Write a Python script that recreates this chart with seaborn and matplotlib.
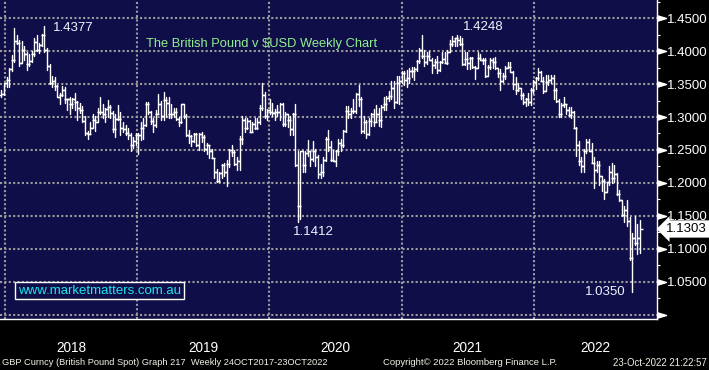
import numpy as np
import pandas as pd
import matplotlib
matplotlib.use('Agg')
import matplotlib.pyplot as plt
import matplotlib.dates as mdates
import matplotlib.ticker as mticker
import matplotlib.transforms as mtransforms
import seaborn as sns

# GBP/USD weekly bars, week ending Friday, 22 Dec 2017 -> 21 Oct 2022
first_open = 1.3340

close_2017 = [1.3350, 1.3510]
high_2017 = [1.3410, 1.3520]
low_2017 = [1.3300, 1.3340]

close_2018 = [1.3568, 1.3720, 1.3860, 1.4150, 1.4120, 1.3820, 1.4020, 1.3960, 1.3810, 1.3850,
              1.3950, 1.4140, 1.4020, 1.4090, 1.4240, 1.4010, 1.3780, 1.3520, 1.3540, 1.3470,
              1.3310, 1.3340, 1.3410, 1.3270, 1.3270, 1.3200, 1.3280, 1.3230, 1.3140, 1.3110,
              1.2940, 1.2760, 1.2740, 1.2840, 1.2960, 1.2930, 1.3070, 1.3080, 1.3040, 1.3120,
              1.3150, 1.3060, 1.2820, 1.2970, 1.2970, 1.2830, 1.2820, 1.2760, 1.2730, 1.2570,
              1.2640, 1.2730]
high_2018 = [1.3613, 1.3745, 1.3943, 1.4345, 1.4240, 1.4160, 1.4145, 1.4070, 1.3990, 1.3950,
             1.4000, 1.4200, 1.4240, 1.4120, 1.4260, 1.4377, 1.4040, 1.3800, 1.3620, 1.3610,
             1.3480, 1.3360, 1.3470, 1.3450, 1.3280, 1.3300, 1.3290, 1.3360, 1.3250, 1.3210,
             1.3170, 1.3020, 1.2790, 1.2930, 1.3050, 1.3020, 1.3140, 1.3300, 1.3190, 1.3130,
             1.3260, 1.3180, 1.3090, 1.3040, 1.3180, 1.3080, 1.2930, 1.2880, 1.2840, 1.2760,
             1.2700, 1.2750]
low_2018 = [1.3460, 1.3460, 1.3690, 1.3840, 1.4100, 1.3770, 1.3820, 1.3870, 1.3710, 1.3780,
            1.3840, 1.3930, 1.4000, 1.3970, 1.4080, 1.3980, 1.3710, 1.3500, 1.3450, 1.3410,
            1.3300, 1.3200, 1.3320, 1.3210, 1.3100, 1.3050, 1.3130, 1.3100, 1.2960, 1.3060,
            1.2920, 1.2730, 1.2662, 1.2740, 1.2830, 1.2790, 1.2920, 1.3040, 1.2990, 1.2920,
            1.3000, 1.2990, 1.2780, 1.2700, 1.2950, 1.2720, 1.2770, 1.2720, 1.2660, 1.2480,
            1.2530, 1.2580]

close_2019 = [1.2730, 1.2840, 1.2880, 1.3190, 1.3080, 1.2940, 1.2880, 1.3050, 1.3190, 1.3010,
              1.3260, 1.3210, 1.3040, 1.3040, 1.3080, 1.2970, 1.2920, 1.3190, 1.3010, 1.2720,
              1.2710, 1.2630, 1.2740, 1.2580, 1.2740, 1.2690, 1.2520, 1.2570, 1.2480, 1.2380,
              1.2160, 1.2030, 1.2150, 1.2280, 1.2160, 1.2290, 1.2500, 1.2470, 1.2290, 1.2330,
              1.2670, 1.2960, 1.2830, 1.2940, 1.2780, 1.2900, 1.2830, 1.2930, 1.3140, 1.3330,
              1.3010, 1.3100]
high_2019 = [1.2750, 1.2930, 1.2990, 1.3220, 1.3220, 1.3090, 1.2990, 1.3110, 1.3350, 1.3240,
             1.3380, 1.3310, 1.3300, 1.3200, 1.3130, 1.3130, 1.3000, 1.3200, 1.3180, 1.3040,
             1.2810, 1.2720, 1.2760, 1.2760, 1.2760, 1.2780, 1.2720, 1.2600, 1.2560, 1.2520,
             1.2380, 1.2210, 1.2170, 1.2290, 1.2310, 1.2350, 1.2510, 1.2580, 1.2500, 1.2390,
             1.2710, 1.3010, 1.2990, 1.2980, 1.2950, 1.2930, 1.2980, 1.2980, 1.3180, 1.3515,
             1.3380, 1.3120]
low_2019 = [1.2440, 1.2650, 1.2670, 1.2860, 1.3040, 1.2890, 1.2770, 1.2850, 1.3050, 1.2960,
            1.2960, 1.3000, 1.2980, 1.2980, 1.3000, 1.2960, 1.2870, 1.2910, 1.2980, 1.2710,
            1.2600, 1.2560, 1.2620, 1.2560, 1.2500, 1.2620, 1.2480, 1.2440, 1.2380, 1.2380,
            1.2080, 1.2010, 1.2015, 1.2080, 1.2100, 1.1958, 1.2240, 1.2410, 1.2280, 1.2200,
            1.2200, 1.2590, 1.2770, 1.2820, 1.2770, 1.2770, 1.2820, 1.2820, 1.2900, 1.3100,
            1.2990, 1.2960]

close_2020 = [1.3080, 1.3060, 1.3070, 1.3080, 1.3200, 1.2890, 1.3040, 1.2960, 1.2820, 1.3040,
              1.2280, 1.1650, 1.2480, 1.2270, 1.2450, 1.2490, 1.2370, 1.2490, 1.2400, 1.2130,
              1.2170, 1.2350, 1.2670, 1.2550, 1.2350, 1.2340, 1.2480, 1.2610, 1.2570, 1.2790,
              1.3090, 1.3050, 1.3090, 1.3090, 1.3350, 1.3280, 1.2790, 1.2920, 1.2740, 1.2940,
              1.3050, 1.2920, 1.3040, 1.2950, 1.3150, 1.3190, 1.3290, 1.3320, 1.3440, 1.3230,
              1.3510, 1.3550]
high_2020 = [1.3280, 1.3210, 1.3120, 1.3180, 1.3210, 1.3210, 1.3070, 1.3050, 1.3020, 1.3060,
             1.3200, 1.2480, 1.2490, 1.2490, 1.2490, 1.2650, 1.2480, 1.2640, 1.2510, 1.2420,
             1.2290, 1.2390, 1.2690, 1.2810, 1.2640, 1.2500, 1.2500, 1.2670, 1.2670, 1.2800,
             1.3170, 1.3170, 1.3140, 1.3270, 1.3360, 1.3480, 1.3300, 1.3010, 1.2950, 1.2980,
             1.3060, 1.3120, 1.3180, 1.3140, 1.3180, 1.3310, 1.3320, 1.3400, 1.3540, 1.3540,
             1.3620, 1.3620]
low_2020 = [1.3040, 1.3010, 1.2960, 1.3020, 1.2960, 1.2870, 1.2870, 1.2850, 1.2730, 1.2730,
            1.2260, 1.1412, 1.1450, 1.2160, 1.2170, 1.2410, 1.2250, 1.2330, 1.2260, 1.2080,
            1.2080, 1.2110, 1.2330, 1.2480, 1.2340, 1.2330, 1.2250, 1.2430, 1.2480, 1.2540,
            1.2770, 1.2980, 1.2990, 1.3060, 1.3060, 1.3170, 1.2760, 1.2760, 1.2680, 1.2720,
            1.2860, 1.2860, 1.2920, 1.2860, 1.2850, 1.3110, 1.3110, 1.3240, 1.3280, 1.3140,
            1.3210, 1.3190]

close_2021 = [1.3670, 1.3560, 1.3590, 1.3690, 1.3700, 1.3730, 1.3850, 1.4010, 1.3930, 1.3830,
              1.3930, 1.3870, 1.3790, 1.3830, 1.3710, 1.3840, 1.3880, 1.3820, 1.3990, 1.4100,
              1.4150, 1.4190, 1.4160, 1.4110, 1.3800, 1.3880, 1.3820, 1.3890, 1.3760, 1.3740,
              1.3900, 1.3870, 1.3860, 1.3620, 1.3760, 1.3870, 1.3840, 1.3740, 1.3670, 1.3540,
              1.3620, 1.3750, 1.3760, 1.3680, 1.3500, 1.3410, 1.3440, 1.3330, 1.3230, 1.3270,
              1.3230, 1.3410, 1.3530]
high_2021 = [1.3700, 1.3700, 1.3710, 1.3750, 1.3760, 1.3760, 1.3870, 1.4050, 1.4240, 1.4010,
             1.3990, 1.4000, 1.3900, 1.3880, 1.3920, 1.3850, 1.3980, 1.3980, 1.4010, 1.4170,
             1.4230, 1.4200, 1.4248, 1.4220, 1.4200, 1.3980, 1.3980, 1.3910, 1.3910, 1.3780,
             1.3980, 1.3960, 1.3900, 1.3890, 1.3790, 1.3890, 1.3890, 1.3910, 1.3750, 1.3720,
             1.3670, 1.3770, 1.3830, 1.3840, 1.3700, 1.3610, 1.3510, 1.3440, 1.3370, 1.3290,
             1.3370, 1.3440, 1.3560]
low_2021 = [1.3520, 1.3480, 1.3450, 1.3520, 1.3610, 1.3560, 1.3700, 1.3820, 1.3890, 1.3780,
            1.3800, 1.3860, 1.3670, 1.3740, 1.3670, 1.3700, 1.3820, 1.3820, 1.3800, 1.3990,
            1.4080, 1.4080, 1.4080, 1.4090, 1.3790, 1.3790, 1.3730, 1.3730, 1.3750, 1.3570,
            1.3740, 1.3860, 1.3800, 1.3600, 1.3620, 1.3720, 1.3750, 1.3730, 1.3610, 1.3410,
            1.3530, 1.3580, 1.3740, 1.3680, 1.3420, 1.3350, 1.3400, 1.3280, 1.3200, 1.3160,
            1.3180, 1.3180, 1.3370]

close_2022 = [1.3590, 1.3680, 1.3550, 1.3400, 1.3530, 1.3560, 1.3590, 1.3410, 1.3250, 1.3040,
              1.3180, 1.3190, 1.3110, 1.3030, 1.3070, 1.2840, 1.2570, 1.2340, 1.2260, 1.2490,
              1.2620, 1.2490, 1.2310, 1.2200, 1.2270, 1.2100, 1.2030, 1.1870, 1.2010, 1.2170,
              1.2070, 1.2130, 1.1830, 1.1740, 1.1510, 1.1590, 1.1420, 1.0860, 1.1170, 1.1090,
              1.1170, 1.1303]
high_2022 = [1.3600, 1.3750, 1.3700, 1.3600, 1.3630, 1.3640, 1.3640, 1.3640, 1.3440, 1.3280,
             1.3210, 1.3300, 1.3200, 1.3150, 1.3150, 1.3090, 1.2850, 1.2640, 1.2400, 1.2520,
             1.2670, 1.2670, 1.2600, 1.2400, 1.2330, 1.2330, 1.2110, 1.2060, 1.2020, 1.2250,
             1.2300, 1.2280, 1.2150, 1.1900, 1.1740, 1.1650, 1.1740, 1.1490, 1.1240, 1.1500,
             1.1380, 1.1440]
low_2022 = [1.3430, 1.3560, 1.3550, 1.3360, 1.3400, 1.3490, 1.3510, 1.3270, 1.3230, 1.3000,
            1.3000, 1.3150, 1.3050, 1.3020, 1.2980, 1.2830, 1.2410, 1.2280, 1.2160, 1.2160,
            1.2460, 1.2480, 1.2300, 1.1930, 1.2160, 1.1970, 1.1880, 1.1760, 1.1870, 1.1970,
            1.2000, 1.2020, 1.1820, 1.1720, 1.1500, 1.1410, 1.1350, 1.0840, 1.0350, 1.1060,
            1.0920, 1.0940]

year_labels = ['2018', '2019', '2020', '2021', '2022']
price_levels = [1.00, 1.05, 1.10, 1.15, 1.20, 1.25, 1.30, 1.35, 1.40, 1.45]

title = 'The British Pound v $USD Weekly Chart'
website = 'www.marketmatters.com.au'
footer_left = 'GBP Curncy (British Pound Spot) Graph 217  Weekly 24OCT2017-23OCT2022'
footer_mid = 'Copyright\u00a9 2022 Bloomberg Finance L.P.'
footer_right = '23-Oct-2022 21:22:57'

navy = '#100e48'
grid_grey = '#9c9c9c'

sns.set_theme(style='dark', rc={'axes.facecolor': navy, 'figure.facecolor': 'black',
                                'savefig.facecolor': 'black', 'text.color': 'white',
                                'xtick.color': 'white', 'ytick.color': 'white'})
plt.rcParams['font.family'] = ['Liberation Sans', 'DejaVu Sans']

close = close_2017 + close_2018 + close_2019 + close_2020 + close_2021 + close_2022
high = high_2017 + high_2018 + high_2019 + high_2020 + high_2021 + high_2022
low = low_2017 + low_2018 + low_2019 + low_2020 + low_2021 + low_2022
dates = pd.date_range(end='2022-10-21', periods=len(close), freq='W-FRI')

bars = pd.DataFrame({'date': dates, 'open': [first_open] + close[:-1],
                     'high': high, 'low': low, 'close': close})
bars['high'] = bars[['open', 'high', 'close']].max(axis=1)
bars['low'] = bars[['open', 'low', 'close']].min(axis=1)

fig = plt.figure(figsize=(7.09, 3.70), dpi=100)
ax = fig.add_axes([0, 51 / 370, 657 / 709, 319 / 370])

# high-low lines, one unit per week
hl = bars.melt(id_vars='date', value_vars=['low', 'high'], value_name='price')
sns.lineplot(data=hl, x='date', y='price', units='date', estimator=None,
             color='white', linewidth=1.0, legend=False, ax=ax)
ax.plot(bars['date'], bars['open'], ls='none', marker=0, ms=2.2, mew=1.0, color='white')
ax.plot(bars['date'], bars['close'], ls='none', marker=1, ms=2.2, mew=1.0, color='white')

ax.set(xlabel='', ylabel='')
ax.set_xlim(pd.Timestamp('2017-12-18'), pd.Timestamp('2022-12-08'))
ax.set_ylim(0.9939, 1.4773)

# x axis: years
ax.xaxis.set_major_locator(mdates.YearLocator())
ax.xaxis.set_minor_locator(mdates.MonthLocator(bymonth=[4, 7, 10]))
ax.xaxis.set_major_formatter(mticker.NullFormatter())
ax.tick_params(axis='x', which='major', length=24, width=1, color=grid_grey, direction='out')
ax.tick_params(axis='x', which='minor', length=2.5, width=0.8, color='white', direction='out')
xtrans = mtransforms.blended_transform_factory(ax.transData, ax.transAxes)
right_end = ax.get_xlim()[1]
for lab in year_labels:
    start = mdates.date2num(pd.Timestamp(lab + '-01-01'))
    end = min(mdates.date2num(pd.Timestamp(str(int(lab) + 1) + '-01-01')), right_end)
    ax.text((start + end) / 2, -0.09, lab, transform=xtrans, ha='center', va='center',
            fontsize=9.8, color='white')

# y axis on the right
ax.yaxis.tick_right()
ax.yaxis.set_major_locator(mticker.FixedLocator(price_levels))
ax.yaxis.set_minor_locator(mticker.FixedLocator([p + 0.025 for p in price_levels]))
ax.yaxis.set_major_formatter(mticker.FuncFormatter(lambda v, p: '' if v < 1.01 else f'{v:.4f}'))
ax.tick_params(axis='y', which='major', length=0, pad=7.5, labelsize=9.5, labelcolor='white')
ax.tick_params(axis='y', which='minor', length=2.5, width=0.8, color='white', direction='out')
ytrans = mtransforms.blended_transform_factory(ax.transAxes, ax.transData)
ax.plot([1.0] * len(price_levels), price_levels, ls='none',
        marker=[(0, -0.3), (1, 0), (0, 0.3)], ms=13, color='white',
        transform=ytrans, clip_on=False)

for side in ['top', 'left']:
    ax.spines[side].set_visible(False)
for side in ['bottom', 'right']:
    ax.spines[side].set_color('white')
    ax.spines[side].set_linewidth(1.0)

ax.grid(True, which='major', axis='both', color=grid_grey,
        linestyle=(0, (1, 1.1)), linewidth=1.5)
ax.set_axisbelow(True)

# last price tag
ax.text(1.0 + 9 / 657, bars['close'].iloc[-1], f"{bars['close'].iloc[-1]:.4f}",
        transform=ytrans, ha='left', va='center', fontsize=9.5, color='black',
        bbox=dict(boxstyle='larrow,pad=0.2', fc='white', ec='none'), clip_on=False, zorder=5)

# marked highs / lows
note_kw = dict(textcoords='offset points', fontsize=9.5, color='#eef3ff')
top = bars.loc[bars['high'].idxmax()]
ax.annotate(f"{top['high']:.4f}", xy=(top['date'], top['high']), xytext=(6, -1.5),
            ha='left', va='center', **note_kw)
b21 = bars[bars['date'].dt.year == 2021]
top21 = b21.loc[b21['high'].idxmax()]
ax.annotate(f"{top21['high']:.4f}", xy=(top21['date'], top21['high']), xytext=(4, 5.5),
            ha='left', va='center', **note_kw)
b20 = bars[bars['date'].dt.year == 2020]
bot20 = b20.loc[b20['low'].idxmin()]
ax.annotate(f"{bot20['low']:.4f}", xy=(bot20['date'], bot20['low']), xytext=(-3.2, -7),
            ha='left', va='center', **note_kw)
bot = bars.loc[bars['low'].idxmin()]
ax.annotate(f"{bot['low']:.4f}", xy=(bot['date'], bot['low']), xytext=(-4.5, 0),
            ha='right', va='center', **note_kw)

ax.text(146 / 657, 1 - 44 / 319, title, transform=ax.transAxes, ha='left', va='center',
        fontsize=9.3, color='#8ff08f')
ax.text(18 / 657, 1 - 290.5 / 319, website, transform=ax.transAxes, ha='left', va='center',
        fontsize=9.5, color='#1ee4f2',
        bbox=dict(boxstyle='square,pad=0.2', fc=navy, ec='white', lw=1.0))

fig.text(2 / 709, 7.5 / 370, footer_left, ha='left', va='center', fontsize=6.65, color='#f2f2e6')
fig.text(470 / 709, 7.5 / 370, footer_mid, ha='center', va='center', fontsize=6.8, color='#f2f2e6')
fig.text(707 / 709, 7.5 / 370, footer_right, ha='right', va='center', fontsize=6.9, color='#f2f2e6')

fig.savefig('out.png', dpi=100, facecolor='black')
